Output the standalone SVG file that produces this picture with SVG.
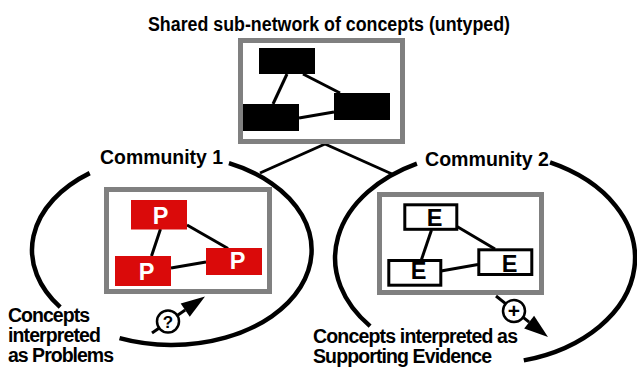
<svg xmlns="http://www.w3.org/2000/svg" width="637" height="368" viewBox="0 0 637 368">
  <style>
    .lbl { font-family: "Liberation Sans", Arial, Helvetica, sans-serif; font-weight: bold; fill: #000; }
    .frame { fill: #fff; stroke: #808080; stroke-width: 5; }
    .edge { stroke: #000; stroke-width: 3; stroke-linecap: butt; fill: none; }
    .ring { fill: none; stroke: #000; stroke-width: 4.5; }
    .plain { fill: #000; }
    .problem { fill: #da0a0a; }
    .evidence { fill: #fff; stroke: #000; stroke-width: 3; }
    .tag { fill: #fff; stroke: #000; stroke-width: 2.5; }
    .letter { font-size: 23.5px; text-anchor: middle; }
  </style>
  <rect width="637" height="368" fill="#fff"/>

  <!-- heading -->
  <text class="lbl" x="148" y="31" font-size="19.5" textLength="362" lengthAdjust="spacingAndGlyphs">Shared sub-network of concepts (untyped)</text>

  <!-- links between the shared network and the two communities -->
  <g id="connectors">
    <line class="edge" x1="325" y1="144" x2="260" y2="173"/>
    <line class="edge" x1="325" y1="144" x2="392" y2="174"/>
  </g>

  <!-- shared, untyped sub-network -->
  <g id="shared-network">
    <rect class="frame" x="240.5" y="40.5" width="162" height="101"/>
    <g id="shared-edges">
      <line class="edge" x1="287" y1="74" x2="273" y2="104"/>
      <line class="edge" x1="303" y1="74" x2="340" y2="93"/>
      <line class="edge" x1="299" y1="118" x2="334" y2="112"/>
    </g>
    <g id="shared-a"><rect class="plain" x="259" y="48" width="56" height="26"/></g>
    <g id="shared-b"><rect class="plain" x="243" y="104" width="56" height="27"/></g>
    <g id="shared-c"><rect class="plain" x="334" y="93" width="56" height="27"/></g>
  </g>

  <!-- community 1: concepts read as problems -->
  <g id="community-1">
    <path class="ring" d="M228.94,163.22 A140,95 0 0 1 119.56,338.08"/>
    <path class="ring" d="M60.2,307.2 A140,95 0 0 1 89.71,173.14"/>
    <text class="lbl" x="100" y="163.5" font-size="21" textLength="123" lengthAdjust="spacingAndGlyphs">Community 1</text>
    <rect class="frame" x="106.5" y="189.5" width="163" height="102"/>
    <g id="problem-edges">
      <line class="edge" x1="160.5" y1="229" x2="151.5" y2="256"/>
      <line class="edge" x1="187" y1="225" x2="228" y2="248.5"/>
      <line class="edge" x1="171" y1="268" x2="206" y2="262"/>
    </g>
    <g id="problem-a">
      <rect class="problem" x="131" y="200" width="56" height="29.5"/>
      <text class="lbl letter" x="160.5" y="223.5" style="fill:#fff">P</text>
    </g>
    <g id="problem-b">
      <rect class="problem" x="115" y="256" width="56" height="30"/>
      <text class="lbl letter" x="146.5" y="280" style="fill:#fff">P</text>
    </g>
    <g id="problem-c">
      <rect class="problem" x="206" y="248" width="56" height="27"/>
      <text class="lbl letter" x="237.5" y="269" style="fill:#fff">P</text>
    </g>
    <g id="problem-arrow">
      <line class="edge" x1="152" y1="333" x2="185.2" y2="310.1"/>
      <polygon points="205,296.5 189.77,316.7 180.69,303.52" fill="#000"/>
      <circle class="tag" cx="168" cy="321.5" r="11"/>
      <text class="lbl" x="168" y="327.5" font-size="17" text-anchor="middle">?</text>
    </g>
    <text class="lbl" font-size="19.5" lengthAdjust="spacingAndGlyphs">
      <tspan x="8" y="322" textLength="82">Concepts</tspan>
      <tspan x="8" y="342" textLength="93">interpreted</tspan>
      <tspan x="8" y="362" textLength="106">as Problems</tspan>
    </text>
  </g>

  <!-- community 2: concepts read as supporting evidence -->
  <g id="community-2">
    <path class="ring" d="M550.06,162.48 A150,106 0 0 1 523.8,360.4"/>
    <path class="ring" d="M370.1,326.1 A150,106 0 0 1 416.9,163.6"/>
    <text class="lbl" x="425" y="165.5" font-size="21" textLength="124" lengthAdjust="spacingAndGlyphs">Community 2</text>
    <rect class="frame" x="379.5" y="194.5" width="162" height="98"/>
    <g id="evidence-edges">
      <line class="edge" x1="431.5" y1="230" x2="421.5" y2="259.5"/>
      <line class="edge" x1="457" y1="226.5" x2="495" y2="249"/>
      <line class="edge" x1="441" y1="271" x2="478" y2="264.5"/>
    </g>
    <g id="evidence-a">
      <rect class="evidence" x="404.8" y="204.8" width="52" height="24.5"/>
      <text class="lbl letter" x="434.5" y="225.5">E</text>
    </g>
    <g id="evidence-b">
      <rect class="evidence" x="388.8" y="260.5" width="52" height="24.7"/>
      <text class="lbl letter" x="418.7" y="279">E</text>
    </g>
    <g id="evidence-c">
      <rect class="evidence" x="478.8" y="249.8" width="53" height="24.7"/>
      <text class="lbl letter" x="509.7" y="271.5">E</text>
    </g>
    <g id="evidence-arrow">
      <line class="edge" x1="496" y1="296" x2="529.15" y2="322.14"/>
      <polygon points="548,337 524.2,328.42 534.1,315.86" fill="#000"/>
      <circle class="tag" cx="514" cy="311" r="11"/>
      <text class="lbl" x="514" y="318" font-size="21" text-anchor="middle">+</text>
    </g>
    <text class="lbl" font-size="19.5" lengthAdjust="spacingAndGlyphs">
      <tspan x="313" y="343" textLength="205">Concepts interpreted as</tspan>
      <tspan x="313" y="363" textLength="179">Supporting Evidence</tspan>
    </text>
  </g>
</svg>
